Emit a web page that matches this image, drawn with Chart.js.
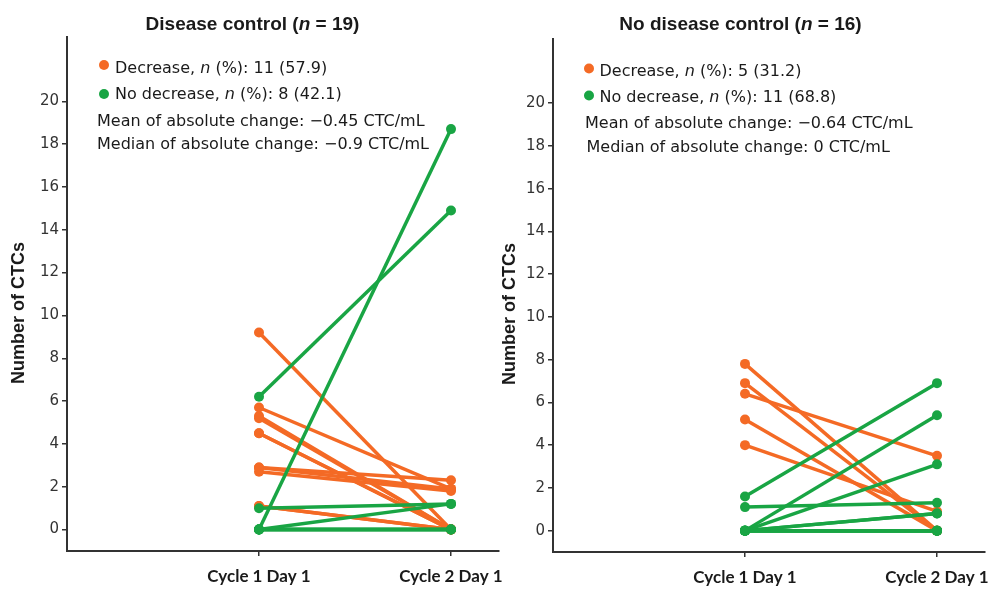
<!DOCTYPE html>
<html>
<head>
<meta charset="utf-8">
<script src="https://cdn.jsdelivr.net/npm/chart.js@4/dist/chart.umd.min.js"></script>
<style>
  html, body { margin: 0; padding: 0; background: #fff; }
  #wrap { position: relative; width: 990px; height: 590px; background: #fff; overflow: hidden; }
  .panel { position: absolute; top: 0; height: 590px; }
</style>
</head>
<body>
<div id="wrap">
  <div class="panel" style="left:0;width:510px"><canvas id="c1" width="510" height="590"></canvas></div>
  <div class="panel" style="left:490px;width:500px"><canvas id="c2" width="500" height="590"></canvas></div>
</div>
<script>
// ---------- data ----------
const categories = ['Cycle 1 Day 1', 'Cycle 2 Day 1'];
const yTicks = [0, 2, 4, 6, 8, 10, 12, 14, 16, 18, 20];

// Disease control (n = 19)
const dcDecreaseC1 = [9.2, 5.7, 5.3, 5.2, 4.5, 4.5, 2.9, 2.9, 2.7, 1.1, 1.1];
const dcDecreaseC2 = [0,   1.9, 0,   0,   0,   0,   2.3, 1.9, 1.8, 0,   0];
const dcNoDecreaseC1 = [6.2,  0,    1.0, 0,   0, 0, 0, 0];
const dcNoDecreaseC2 = [14.9, 18.7, 1.2, 1.2, 0, 0, 0, 0];

// No disease control (n = 16)
const ndDecreaseC1 = [7.8, 6.9, 6.4, 5.2, 4.0];
const ndDecreaseC2 = [0,   0,   3.5, 0,   0.9];
const ndNoDecreaseC1 = [1.6, 0,   0,   1.1, 0,   0,   0, 0, 0, 0, 0];
const ndNoDecreaseC2 = [6.9, 5.4, 3.1, 1.3, 0.8, 0.8, 0, 0, 0, 0, 0];

const ORANGE = '#F46A25';
const GREEN = '#19A544';
const AXIS = '#333333';
const TEXT = '#1a1a1a';

function buildSets(c1, c2, color) {
  return c1.map((v, i) => ({
    data: [{ x: 1, y: v }, { x: 2, y: c2[i] }],
    borderColor: color,
    backgroundColor: color,
    pointBackgroundColor: color,
    pointBorderColor: color,
    borderWidth: 3.5,
    pointRadius: 5,
    pointBorderWidth: 0,
    fill: false,
    tension: 0
  }));
}

// draw a run of text pieces with different font styles
function drawRuns(ctx, runs, x, y, align) {
  let total = 0;
  runs.forEach(r => { ctx.font = r[1]; total += ctx.measureText(r[0]).width; });
  let cx = align === 'center' ? x - total / 2 : x;
  ctx.textAlign = 'left';
  runs.forEach(r => {
    ctx.font = r[1];
    ctx.fillText(r[0], cx, y);
    cx += ctx.measureText(r[0]).width;
  });
}

const F_TITLE = 'bold 19px "Liberation Sans", Arial, sans-serif';
const F_TITLE_I = 'italic bold 19px "Liberation Sans", Arial, sans-serif';
const F_LEG = '16px "DejaVu Sans", sans-serif';
const F_LEG_I = 'italic 16px "DejaVu Sans", sans-serif';

function annotPlugin(cfg) {
  return {
    id: 'annot',
    afterDraw(chart) {
      const ctx = chart.ctx;
      ctx.save();
      ctx.fillStyle = TEXT;
      ctx.textBaseline = 'alphabetic';
      // panel title
      drawRuns(ctx, [[cfg.titleA, F_TITLE], ['n', F_TITLE_I], [cfg.titleB, F_TITLE]], cfg.titleX, cfg.titleY, 'center');
      // y axis title
      ctx.save();
      ctx.translate(cfg.yTitleX, cfg.yTitleY);
      ctx.rotate(-Math.PI / 2);
      ctx.font = 'bold 18px "Liberation Sans", Arial, sans-serif';
      ctx.textAlign = 'center';
      ctx.textBaseline = 'middle';
      ctx.fillText('Number of CTCs', 0, 0);
      ctx.restore();
      // legend dots
      ctx.fillStyle = ORANGE;
      ctx.beginPath(); ctx.arc(cfg.dotX, cfg.dot1Y, 5, 0, Math.PI * 2); ctx.fill();
      ctx.fillStyle = GREEN;
      ctx.beginPath(); ctx.arc(cfg.dotX, cfg.dot2Y, 5, 0, Math.PI * 2); ctx.fill();
      ctx.fillStyle = TEXT;
      ctx.textBaseline = 'alphabetic';
      drawRuns(ctx, [['Decrease, ', F_LEG], ['n', F_LEG_I], [' (%): ' + cfg.dec, F_LEG]], cfg.legX, cfg.l1Y, 'left');
      drawRuns(ctx, [['No decrease, ', F_LEG], ['n', F_LEG_I], [' (%): ' + cfg.nodec, F_LEG]], cfg.legX, cfg.l2Y, 'left');
      drawRuns(ctx, [['Mean of absolute change: ' + cfg.mean, F_LEG]], cfg.meanX, cfg.l3Y, 'left');
      drawRuns(ctx, [['Median of absolute change: ' + cfg.median, F_LEG]], cfg.medX, cfg.l4Y, 'left');
      ctx.restore();
    }
  };
}

function makeChart(id, datasets, lay, annot) {
  return new Chart(document.getElementById(id), {
    type: 'line',
    data: { datasets },
    options: {
      responsive: false,
      animation: false,
      devicePixelRatio: 1,
      events: [],
      layout: { padding: { top: lay.top, right: lay.right, left: 0, bottom: 0 } },
      plugins: { legend: { display: false }, tooltip: { enabled: false }, title: { display: false } },
      scales: {
        x: {
          type: 'linear',
          min: 0,
          max: 2.25,
          afterBuildTicks: s => { s.ticks = [1, 2].map(v => ({ value: v })); },
          afterFit: s => { s.height = lay.xh; s.paddingLeft = 0; s.paddingRight = 0; },
          ticks: {
            callback: v => categories[Math.round(v) - 1],
            font: { family: 'Lato', weight: 'bold', size: 17 },
            color: TEXT,
            padding: 10,
            maxRotation: 0,
            autoSkip: false
          },
          grid: { drawOnChartArea: false, drawTicks: true, tickLength: 5, color: AXIS, lineWidth: 1.5 },
          border: { display: true, color: AXIS, width: 2 }
        },
        y: {
          type: 'linear',
          min: -1,
          max: 23,
          afterBuildTicks: s => { s.ticks = yTicks.map(v => ({ value: v })); },
          afterFit: s => { s.width = lay.yw; s.paddingTop = 0; s.paddingBottom = 0; },
          ticks: {
            font: { family: 'DejaVu Sans', size: 15 },
            color: '#333',
            padding: 3
          },
          grid: { drawOnChartArea: false, drawTicks: true, tickLength: 5, color: AXIS, lineWidth: 1.5 },
          border: { display: true, color: AXIS, width: 2 }
        }
      }
    },
    plugins: [annotPlugin(annot)]
  });
}

makeChart('c1',
  buildSets(dcNoDecreaseC1, dcNoDecreaseC2, GREEN).concat(buildSets(dcDecreaseC1, dcDecreaseC2, ORANGE)),
  { top: 37, right: 11, xh: 39, yw: 67 },
  { titleA: 'Disease control (', titleB: ' = 19)', titleX: 252.5, titleY: 30,
    yTitleX: 19.5, yTitleY: 313,
    dotX: 104, dot1Y: 65, dot2Y: 94, legX: 115, l1Y: 72.7, l2Y: 99.3,
    meanX: 97, l3Y: 126, medX: 97, l4Y: 148.5,
    dec: '11 (57.9)', nodec: '8 (42.1)', mean: '\u22120.45 CTC/mL', median: '\u22120.9 CTC/mL' });

makeChart('c2',
  buildSets(ndNoDecreaseC1, ndNoDecreaseC2, GREEN).concat(buildSets(ndDecreaseC1, ndDecreaseC2, ORANGE)),
  { top: 39, right: 5, xh: 38, yw: 63 },
  { titleA: 'No disease control (', titleB: ' = 16)', titleX: 250.5, titleY: 29.5,
    yTitleX: 20, yTitleY: 314,
    dotX: 99, dot1Y: 68.5, dot2Y: 95.5, legX: 109.5, l1Y: 76, l2Y: 101.7,
    meanX: 95, l3Y: 128.3, medX: 96.5, l4Y: 151.7,
    dec: '5 (31.2)', nodec: '11 (68.8)', mean: '\u22120.64 CTC/mL', median: '0 CTC/mL' });
</script>
</body>
</html>
